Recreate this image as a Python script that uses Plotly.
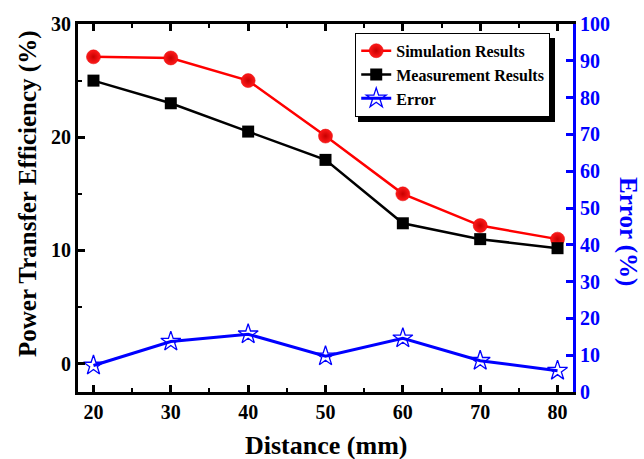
import plotly.graph_objects as go

distance = [20, 30, 40, 50, 60, 70, 80]
simulation = [27.1, 27.0, 25.0, 20.1, 15.0, 12.2, 11.0]
measurement = [25.0, 23.0, 20.5, 18.0, 12.4, 11.0, 10.2]
error = [7.2, 13.7, 15.7, 9.7, 14.6, 8.5, 5.8]

FONT = "Liberation Serif, Times New Roman, serif"

fig = go.Figure()
fig.add_trace(go.Scatter(
    x=distance, y=simulation, name="<b>Simulation Results</b>", mode="lines+markers",
    line=dict(color="#ff0000", width=2.5),
    marker=dict(symbol="circle", size=14, color="#ff1a1a",
                gradient=dict(type="radial", color="#c80000"),
                line=dict(color="#e00000", width=0.5)),
))
fig.add_trace(go.Scatter(
    x=distance, y=measurement, name="<b>Measurement Results</b>", mode="lines+markers",
    line=dict(color="#000000", width=2.5),
    marker=dict(symbol="square", size=12, color="#000000"),
))
fig.add_trace(go.Scatter(
    x=distance, y=error, name="<b>Error</b>", mode="lines+markers", yaxis="y2",
    line=dict(color="#0000ff", width=3),
    marker=dict(symbol="star-open", size=15, color="#0000ff", line=dict(width=1.3)),
))

tickfont = dict(family=FONT, size=20, color="black")
fig.update_layout(
    width=644, height=459,
    margin=dict(l=78, r=71, t=24, b=67),
    paper_bgcolor="white", plot_bgcolor="white",
    font=dict(family=FONT, color="black"),
    showlegend=True,
    legend=dict(
        x=0.954, y=0.976, xanchor="right", yanchor="top",
        bgcolor="white", bordercolor="black", borderwidth=1,
        font=dict(family=FONT, size=16, color="black"),
        tracegroupgap=0, itemwidth=30,
    ),
    xaxis=dict(
        range=[18, 82], tickvals=[20, 30, 40, 50, 60, 70, 80],
        ticktext=[f"<b>{v}</b>" for v in [20, 30, 40, 50, 60, 70, 80]],
        ticks="inside", ticklen=7, tickwidth=3, tickcolor="black",
        minor=dict(ticks="inside", ticklen=4, tickwidth=2, dtick=5, tick0=0, tickcolor="black"),
        showline=True, linecolor="black", linewidth=3, mirror="ticks",
        showgrid=False, zeroline=False, tickfont=tickfont,
    ),
    yaxis=dict(
        range=[-2.5, 30], tickvals=[0, 10, 20, 30],
        ticktext=[f"<b>{v}</b>" for v in [0, 10, 20, 30]],
        ticks="inside", ticklen=7, tickwidth=3, tickcolor="black",
        minor=dict(ticks="inside", ticklen=4, tickwidth=2, dtick=5, tick0=0, tickcolor="black"),
        showline=True, linecolor="black", linewidth=3,
        showgrid=False, zeroline=False, tickfont=tickfont,
    ),
    yaxis2=dict(
        range=[0, 100], tickvals=list(range(0, 101, 10)),
        ticktext=[f"<b>{v}</b>" for v in range(0, 101, 10)],
        overlaying="y", side="right",
        ticks="inside", ticklen=7, tickwidth=3, tickcolor="#0000ff",
        showline=True, linecolor="#0000ff", linewidth=3,
        showgrid=False, zeroline=False,
        tickfont=dict(family=FONT, size=20, color="#0000ff"),
    ),
    annotations=[
        dict(text="<b>Power Transfer Efficiency (%)</b>", textangle=-90,
             xref="paper", yref="paper", x=-0.101, y=0.538, xanchor="center", yanchor="middle",
             showarrow=False, font=dict(family=FONT, size=25, color="black")),
        dict(text="<b>Error (%)</b>", textangle=90,
             xref="paper", yref="paper", x=1.111, y=0.435, xanchor="center", yanchor="middle",
             showarrow=False, font=dict(family=FONT, size=25, color="#0000ff")),
        dict(text="<b>Distance (mm)</b>",
             xref="paper", yref="paper", x=0.5, y=-0.100, xanchor="center", yanchor="top",
             showarrow=False, font=dict(family=FONT, size=26, color="black")),
    ],
    shapes=[
        dict(type="rect", xref="paper", yref="paper",
             x0=(358 - 78) / 495, x1=(555 - 78) / 495,
             y0=(392 - 122) / 368, y1=(392 - 38) / 368,
             fillcolor="black", line=dict(width=0), layer="above"),
    ],
)

fig.write_html("out.html")
